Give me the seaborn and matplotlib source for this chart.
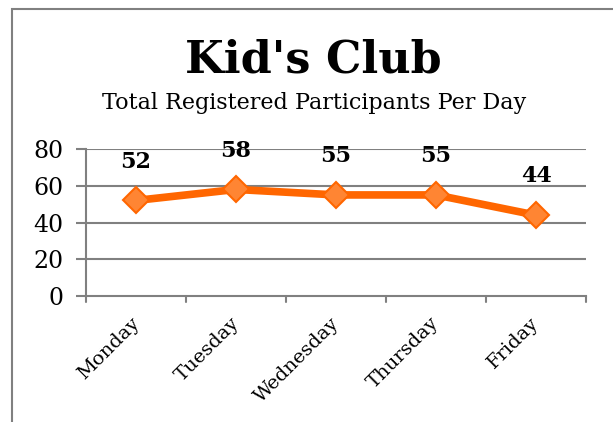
import matplotlib
matplotlib.use("Agg")
import matplotlib.pyplot as plt
import matplotlib.transforms as mtransforms
import seaborn as sns
import pandas as pd
from matplotlib.patches import Rectangle

days = ["Monday", "Tuesday", "Wednesday", "Thursday", "Friday"]
participants = [52, 58, 55, 55, 44]
yticks = [0, 20, 40, 60, 80]

df = pd.DataFrame({"day": days, "participants": participants})

sns.set_theme(style="white")
plt.rcParams["font.family"] = ["DejaVu Serif"]

fig = plt.figure(figsize=(6.13, 4.22), dpi=100)
ax = fig.add_axes([86/613, 1-296/422, 500/613, 147/422])

sns.lineplot(data=df, x="day", y="participants", ax=ax, color="#FF6600",
             linewidth=5.5, marker="D", markersize=13,
             markerfacecolor="#FF8533", markeredgecolor="#FF6600",
             markeredgewidth=1.5, sort=False)

ax.set_xlim(-0.5, 4.5)
ax.set_ylim(0, 80)
ax.set_yticks(yticks)
ax.set_yticklabels([str(v) for v in yticks], fontsize=17, color="black")
ax.set_xticks(range(len(days)))
ax.set_xticklabels(days, rotation=45, ha="right", rotation_mode="anchor",
                   fontsize=14, color="black")
ax.tick_params(axis="x", length=0, pad=13)
ax.tick_params(axis="y", length=7, width=1.5, color="#808080", pad=9, left=True)
shift = mtransforms.ScaledTranslation(-6/100, 0, fig.dpi_scale_trans)
for lbl in ax.get_xticklabels():
    lbl.set_transform(lbl.get_transform() + shift)

# boundary ticks on the x axis
for b in [-0.5, 0.5, 1.5, 2.5, 3.5, 4.5]:
    ax.plot([b, b], [0, -3], color="#808080", lw=1.5, clip_on=False)

for v in yticks[1:]:
    ax.axhline(v, color="#808080", lw=1.5, zorder=0)
for s in ["top", "right"]:
    ax.spines[s].set_visible(False)
for s in ["left", "bottom"]:
    ax.spines[s].set_color("#808080")
    ax.spines[s].set_linewidth(1.5)
ax.set_xlabel("")
ax.set_ylabel("")

for i, v in enumerate(participants):
    ax.annotate(str(v), (i, v), xytext=(0, 28), textcoords="offset points",
                ha="center", va="center", fontsize=16, fontweight="bold",
                color="black")

fig.text(313/613, 1-60/422, "Kid's Club", ha="center", va="center",
         fontsize=32, fontweight="bold", color="black")
fig.text(314/613, 1-103/422, "Total Registered Participants Per Day",
         ha="center", va="center", fontsize=16, color="black")

fig.patches.append(Rectangle((12/613, -0.2), 1.2, 1.2 - 9/422, transform=fig.transFigure,
                             fill=False, edgecolor="#808080", lw=1.5))

fig.savefig("out.png", dpi=100)
